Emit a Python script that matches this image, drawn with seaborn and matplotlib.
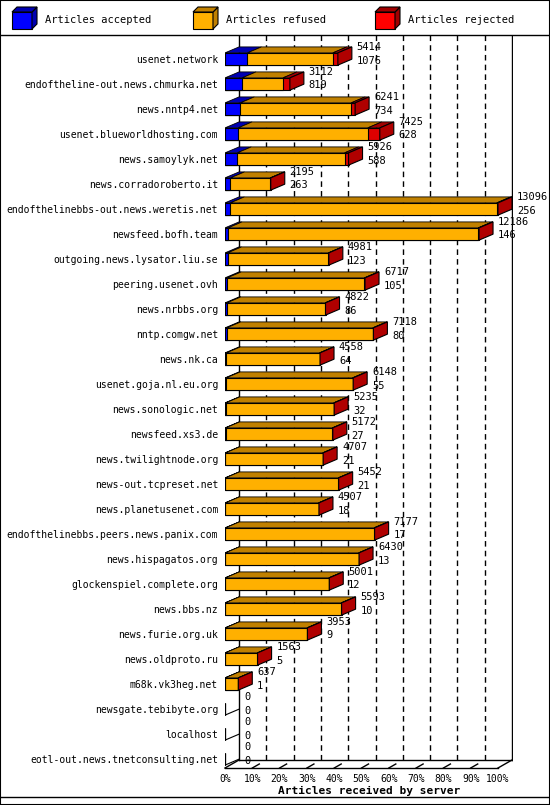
import matplotlib
matplotlib.use("Agg")
import matplotlib.pyplot as plt
import seaborn as sns
import pandas as pd
import numpy as np
from matplotlib.patches import Polygon, Rectangle
from matplotlib.lines import Line2D

servers = ["usenet.network", "endoftheline-out.news.chmurka.net", "news.nntp4.net",
           "usenet.blueworldhosting.com", "news.samoylyk.net", "news.corradoroberto.it",
           "endofthelinebbs-out.news.weretis.net", "newsfeed.bofh.team",
           "outgoing.news.lysator.liu.se", "peering.usenet.ovh", "news.nrbbs.org",
           "nntp.comgw.net", "news.nk.ca", "usenet.goja.nl.eu.org", "news.sonologic.net",
           "newsfeed.xs3.de", "news.twilightnode.org", "news-out.tcpreset.net",
           "news.planetusenet.com", "endofthelinebbs.peers.news.panix.com",
           "news.hispagatos.org", "glockenspiel.complete.org", "news.bbs.nz",
           "news.furie.org.uk", "news.oldproto.ru", "m68k.vk3heg.net",
           "newsgate.tebibyte.org", "localhost", "eotl-out.news.tnetconsulting.net"]
total = [5414, 3112, 6241, 7425, 5926, 2195, 13096, 12186, 4981, 6717, 4822, 7118, 4558,
         6148, 5235, 5172, 4707, 5452, 4507, 7177, 6430, 5001, 5593, 3953, 1563, 637, 0, 0, 0]
accepted = [1076, 819, 734, 628, 588, 263, 256, 146, 123, 105, 86, 80, 64, 55, 32, 27, 21,
            21, 18, 17, 13, 12, 10, 9, 5, 1, 0, 0, 0]
rejected = [240, 330, 190, 575, 190, 20, 60, 40, 20, 30, 20, 30, 20, 30, 20, 20, 20, 20,
            20, 30, 20, 20, 20, 20, 10, 5, 0, 0, 0]
tick_labels = ["0%", "10%", "20%", "30%", "40%", "50%", "60%", "70%", "80%", "90%", "100%"]

mx = max(total)
df = pd.DataFrame({"server": servers,
                   "tot": np.array(total) / mx * 100,
                   "accref": (np.array(total) - np.array(rejected)) / mx * 100,
                   "acc": np.array(accepted) / mx * 100})

FONT = "DejaVu Sans Mono"
plt.rcParams["font.family"] = FONT
plt.rcParams["font.size"] = 7

W, H = 550, 805
fig = plt.figure(figsize=(W / 100, H / 100), dpi=100)
ax = fig.add_axes([225 / W, 1 - 768 / H, 288 / W, 733 / H])
bw = 0.49
for col, c in [("tot", "#dd0000"), ("accref", "#ffb000"), ("acc", "#0000ff")]:
    sns.barplot(data=df, x=col, y="server", color=c, width=bw, orient="h",
                ax=ax, edgecolor="black", linewidth=0.8, saturation=1, zorder=2)

px = 100 / 273.0
dx = 14 * px
dy = 6 / 25.2
ax.set_xlim(0, 288 * px)
ax.set_ylim(28.36, -0.96)

floor = 28.36 - 0.32
ax.plot([dx, dx], [-0.96, floor], color="black", lw=1, zorder=0.5)
ax.plot([dx, 100 + dx], [floor, floor], color="black", lw=1, zorder=0.5)
ax.plot([0, 100], [28.36, 28.36], color="black", lw=1, zorder=0.5, clip_on=False)
ax.plot([100, 100 + dx], [28.36, floor], color="black", lw=1, zorder=0.5, clip_on=False)
ax.plot([0, dx], [28.36, floor], color="black", lw=1, zorder=0.5, clip_on=False)
ax.plot([100 + dx, 100 + dx], [-0.96, floor], color="black", lw=1, zorder=0.5)
for k in range(1, 10):
    ax.plot([k * 10 + dx, k * 10 + dx], [-0.96, floor], color="black", lw=1,
            ls=(0, (4, 3)), zorder=0.5)
    ax.plot([k * 10, k * 10 + dx * 0.5], [28.36, 28.36 - 0.16], color="black", lw=1)
for i in range(len(servers)):
    ax.plot([0, dx], [i + bw / 2, i + bw / 2 - dy], color="black", lw=0.8, zorder=0.5)

cols_top = ["#0000b0", "#c08000", "#a00000"]
for i in range(len(servers)):
    top = i - bw / 2
    bot = i + bw / 2
    segs = [(0, df.acc[i]), (df.acc[i], df.accref[i]), (df.accref[i], df.tot[i])]
    if total[i] > 0:
        for (a, b), c in zip(segs, cols_top):
            if b > a:
                ax.add_patch(Polygon([(a, top), (b, top), (b + dx, top - dy), (a + dx, top - dy)],
                                     closed=True, fc=c, ec="black", lw=0.6, zorder=3))
        x1 = df.tot[i]
        ax.add_patch(Polygon([(x1, top), (x1 + dx, top - dy), (x1 + dx, bot - dy), (x1, bot)],
                             closed=True, fc="#b00000", ec="black", lw=0.8, zorder=3))
    xt = df.tot[i] + dx + 1.8
    ax.text(xt, i - 0.48, str(total[i]), va="center", ha="left", fontsize=7.5)
    ax.text(xt, i + 0.06, str(accepted[i]), va="center", ha="left", fontsize=7.5)

ax.set_xticks(np.arange(0, 101, 10))
ax.set_xticklabels(tick_labels)
ax.tick_params(axis="x", length=0, pad=4)
ax.tick_params(axis="y", length=0, pad=5)
ax.set_ylabel("")
ax.set_xlabel("Articles received by server", fontweight="bold", fontsize=8, labelpad=2)
for s in ax.spines.values():
    s.set_visible(False)

fig.add_artist(Line2D([0, 1], [1 - 35 / H, 1 - 35 / H], color="black", lw=1))
fig.add_artist(Line2D([0, 1], [1 - 797 / H, 1 - 797 / H], color="black", lw=1))
fig.add_artist(Rectangle((0, 0), 1, 1, fill=False, ec="black", lw=1.5))

leg = [("Articles accepted", "#0000ff", "#0000b0", 12), ("Articles refused", "#ffb000", "#c08000", 193),
       ("Articles rejected", "#ff0000", "#a00000", 375)]
for lab, c, cd, x0 in leg:
    fig.add_artist(Rectangle((x0 / W, 1 - 29 / H), 20 / W, 17 / H, fc=c, ec="black", lw=0.8))
    fig.add_artist(Polygon([((x0 + 20) / W, 1 - 29 / H), ((x0 + 25) / W, 1 - 24 / H),
                            ((x0 + 25) / W, 1 - 7 / H), ((x0 + 20) / W, 1 - 12 / H)],
                           closed=True, fc=cd, ec="black", lw=0.8))
    fig.add_artist(Polygon([(x0 / W, 1 - 12 / H), ((x0 + 20) / W, 1 - 12 / H),
                            ((x0 + 25) / W, 1 - 7 / H), ((x0 + 5) / W, 1 - 7 / H)],
                           closed=True, fc=cd, ec="black", lw=0.8))
    fig.text((x0 + 33) / W, 1 - 20 / H, lab, va="center", ha="left", fontsize=7.5)

fig.savefig("out.png", dpi=100, facecolor="white")
